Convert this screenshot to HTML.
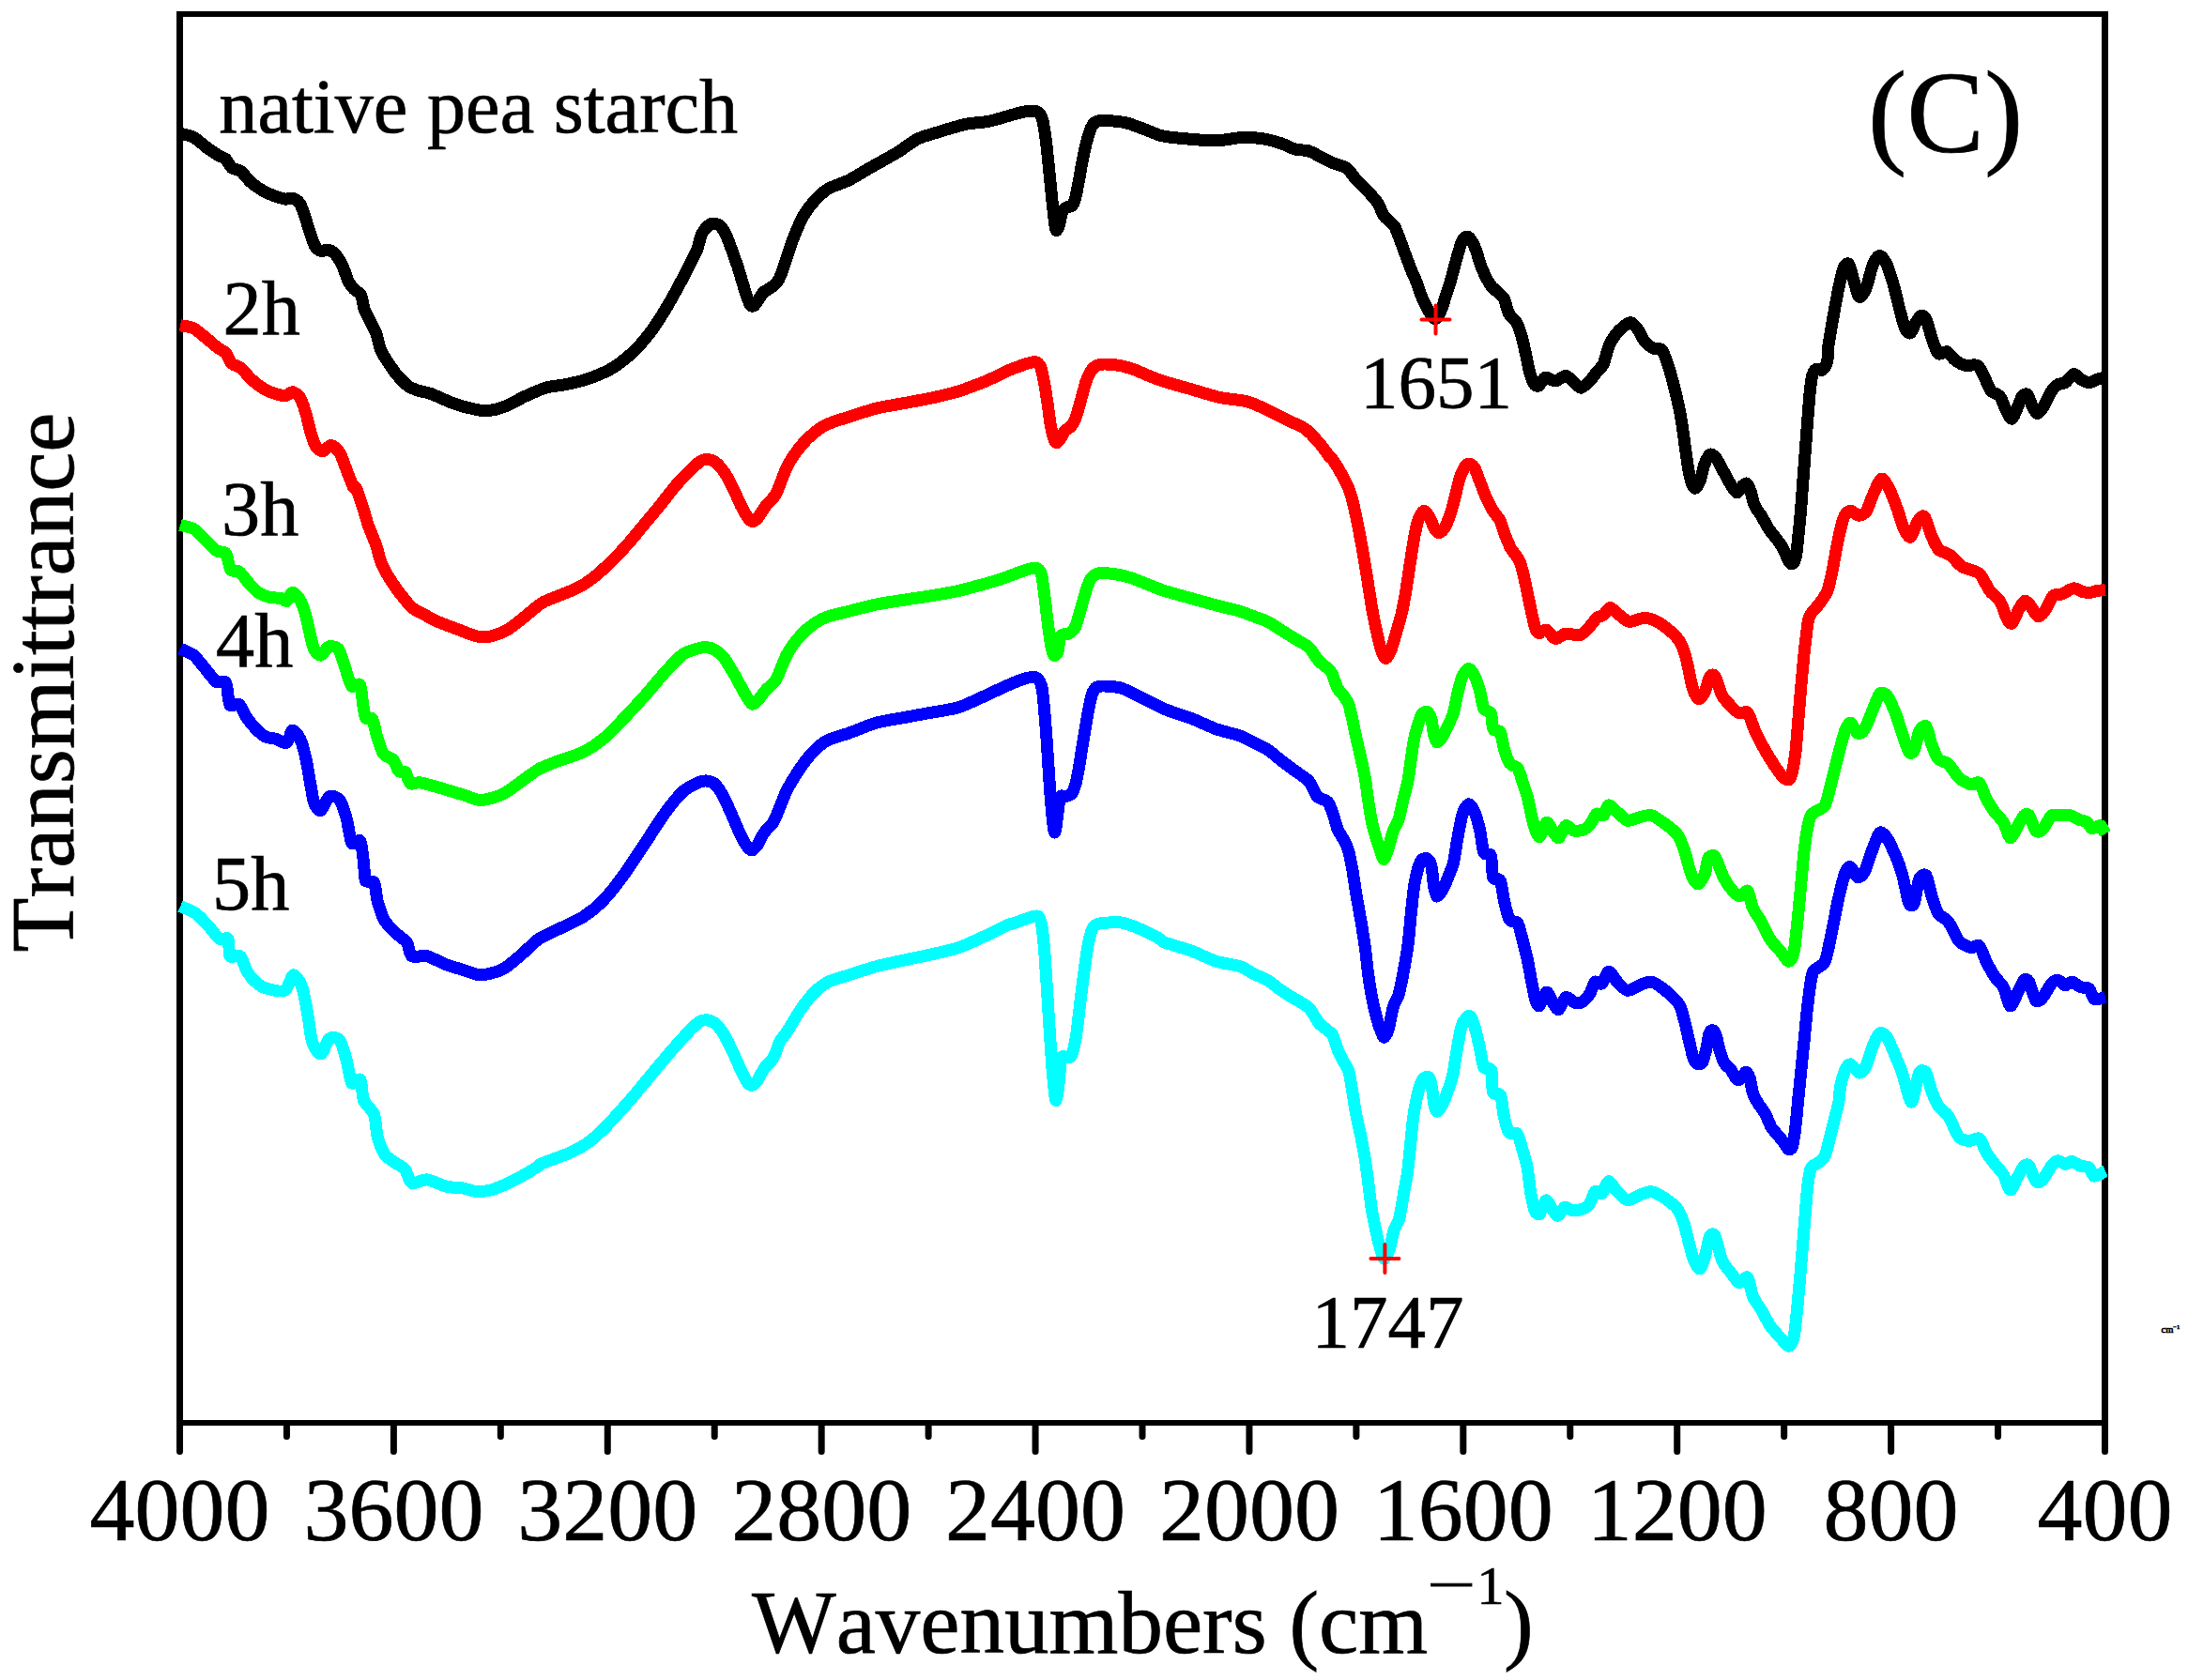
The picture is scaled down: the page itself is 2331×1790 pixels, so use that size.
<!DOCTYPE html>
<html><head><meta charset="utf-8"><title>FTIR spectra (C)</title>
<style>
html,body{margin:0;padding:0;background:#fff;}
svg{display:block;}
text{font-family:"Liberation Serif","Times New Roman",serif;fill:#000;font-kerning:none;stroke:#000;stroke-width:0.7px;}
</style></head><body>
<svg width="2331" height="1790" viewBox="0 0 2331 1790">
<rect x="0" y="0" width="2331" height="1790" fill="#fff"/>
<g fill="#000" shape-rendering="crispEdges"><rect x="188" y="12" width="7" height="1507"/><rect x="2239" y="12" width="7" height="1507"/><rect x="188" y="12" width="2058" height="6"/><rect x="188" y="1513" width="2058" height="6"/></g>
<g fill="none" stroke-width="13" stroke-linejoin="round" stroke-linecap="butt" shape-rendering="crispEdges">
<path stroke="#00ffff" d="M192.0,965.7C194.2,966.7 204.3,970.1 208.4,973.1C212.5,976.0 219.6,984.0 223.0,987.7C226.4,991.3 231.3,998.8 234.0,1000.5C236.7,1002.2 241.7,998.0 243.1,1000.5C244.6,1002.9 243.3,1016.3 245.0,1018.8C246.7,1021.2 253.5,1016.6 255.9,1018.8C258.4,1021.0 260.8,1031.3 263.3,1035.2C265.7,1039.1 271.3,1045.6 274.2,1048.0C277.1,1050.4 281.3,1052.5 285.2,1053.5C289.1,1054.5 299.8,1057.3 303.5,1055.3C307.1,1053.4 310.2,1039.4 312.6,1038.9C315.1,1038.4 319.8,1046.5 321.8,1051.7C323.7,1056.8 325.8,1069.5 327.2,1077.3C328.7,1085.1 330.8,1104.1 332.7,1110.2C334.7,1116.3 339.4,1123.4 341.9,1123.0C344.3,1122.5 348.3,1108.5 351.0,1106.5C353.7,1104.6 359.5,1105.2 362.0,1108.3C364.4,1111.5 367.6,1124.2 369.3,1130.3C371.0,1136.4 372.8,1151.4 374.8,1154.0C376.7,1156.7 382.2,1147.9 383.9,1150.4C385.6,1152.8 385.6,1167.4 387.6,1172.3C389.5,1177.3 396.6,1182.2 398.5,1187.4C400.5,1192.6 400.7,1205.6 402.2,1211.2C403.7,1216.8 407.1,1225.8 409.5,1229.5C411.9,1233.1 417.6,1236.4 420.5,1238.6C423.4,1240.8 429.0,1243.0 431.4,1245.9C433.9,1248.8 435.6,1259.1 438.8,1260.5C441.9,1262.0 450.3,1256.4 455.2,1256.9C460.1,1257.4 470.2,1263.0 475.3,1264.2C480.4,1265.4 489.2,1265.3 493.6,1266.0C498.0,1266.8 504.3,1269.4 508.2,1269.7C512.1,1269.9 519.0,1268.8 522.9,1267.9C526.8,1266.9 533.1,1264.3 537.5,1262.4C541.9,1260.4 550.9,1255.9 555.8,1253.2C560.6,1250.6 571.3,1244.0 574.0,1242.3C576.8,1240.5 574.0,1241.0 576.5,1239.9C579.0,1238.8 588.5,1235.5 592.9,1233.8C597.3,1232.1 605.0,1229.4 609.4,1227.3C613.8,1225.2 621.4,1221.0 625.8,1217.9C630.2,1214.8 637.9,1207.9 642.3,1203.7C646.7,1199.5 654.3,1190.9 658.7,1186.1C663.1,1181.3 670.8,1172.6 675.2,1167.5C679.6,1162.4 687.2,1153.0 691.6,1147.7C696.0,1142.4 704.0,1132.8 708.1,1128.0C712.2,1123.2 718.6,1115.7 722.3,1111.6C726.0,1107.5 732.4,1100.4 735.5,1097.3C738.6,1094.2 742.8,1090.0 745.2,1088.6C747.6,1087.2 751.4,1086.6 753.6,1086.9C755.8,1087.2 759.5,1088.4 761.9,1090.5C764.3,1092.6 768.9,1098.3 771.4,1102.4C773.9,1106.5 778.5,1116.0 781.0,1121.4C783.5,1126.8 788.4,1138.6 790.5,1142.9C792.6,1147.2 795.0,1151.8 796.4,1153.6C797.8,1155.4 799.8,1156.7 801.2,1156.4C802.6,1156.1 805.4,1153.6 807.1,1151.2C808.8,1148.8 812.1,1141.3 814.3,1138.1C816.5,1134.9 821.6,1131.2 823.8,1127.4C826.0,1123.6 829.0,1113.3 831.0,1109.5C833.0,1105.7 835.6,1103.7 838.5,1099.2C841.5,1094.7 849.2,1081.0 853.1,1075.4C857.0,1069.8 863.9,1061.0 867.8,1057.1C871.7,1053.2 877.5,1048.6 882.4,1046.2C887.3,1043.7 897.5,1041.1 904.3,1038.9C911.1,1036.7 925.8,1031.8 933.6,1029.7C941.4,1027.6 955.0,1024.9 962.8,1023.1C970.6,1021.4 984.3,1018.7 992.1,1016.9C999.9,1015.1 1013.5,1012.3 1021.3,1009.6C1029.1,1006.9 1043.7,1000.0 1050.6,996.8C1057.4,993.7 1068.6,987.6 1072.5,985.9C1076.4,984.1 1076.7,984.9 1080.0,983.8C1083.3,982.7 1094.0,978.5 1097.5,977.5C1101.0,976.5 1104.6,975.0 1106.3,976.3C1108.0,977.6 1109.1,982.0 1110.0,987.5C1110.9,993.0 1112.2,1006.8 1113.0,1017.5C1113.8,1028.2 1115.4,1053.2 1116.3,1067.5C1117.2,1081.8 1119.1,1112.7 1120.0,1125.0C1120.9,1137.3 1122.3,1153.7 1123.0,1160.0C1123.7,1166.3 1124.3,1173.2 1125.0,1172.5C1125.7,1171.8 1127.3,1161.0 1128.0,1155.0C1128.7,1149.0 1129.6,1131.3 1130.5,1127.5C1131.4,1123.7 1133.6,1126.6 1135.0,1126.3C1136.4,1126.0 1139.8,1127.8 1141.3,1125.0C1142.8,1122.2 1145.1,1111.7 1146.3,1105.0C1147.5,1098.3 1148.8,1084.3 1150.0,1075.0C1151.2,1065.7 1153.7,1044.7 1155.0,1035.0C1156.3,1025.3 1158.7,1008.8 1160.0,1002.5C1161.3,996.2 1163.3,990.0 1165.0,987.5C1166.7,985.0 1168.5,984.4 1172.5,983.8C1176.5,983.2 1189.3,982.2 1195.0,983.0C1200.7,983.8 1209.7,987.7 1215.0,990.0C1220.3,992.3 1231.6,998.1 1235.0,1000.0C1238.4,1001.9 1236.0,1002.4 1240.7,1004.1C1245.4,1005.9 1262.6,1010.6 1269.9,1013.3C1277.3,1016.0 1288.7,1022.0 1295.5,1024.2C1302.4,1026.4 1315.8,1027.9 1321.1,1029.7C1326.5,1031.5 1331.9,1035.8 1335.8,1037.8C1339.7,1039.7 1346.5,1042.0 1350.4,1044.4C1354.3,1046.7 1361.1,1052.6 1365.0,1055.3C1368.9,1058.0 1375.7,1062.0 1379.6,1064.5C1383.5,1066.9 1390.8,1070.2 1394.3,1073.6C1397.7,1077.0 1402.3,1086.6 1405.2,1090.1C1408.2,1093.5 1414.2,1097.5 1416.2,1099.2C1418.2,1100.9 1418.8,1100.3 1420.0,1102.9C1421.2,1105.5 1423.9,1115.1 1425.4,1118.9C1426.9,1122.7 1430.1,1128.3 1431.6,1131.4C1433.1,1134.5 1435.8,1138.0 1437.0,1142.1C1438.2,1146.2 1439.4,1155.6 1440.5,1161.8C1441.6,1168.0 1443.7,1181.7 1445.0,1188.6C1446.3,1195.5 1449.1,1206.9 1450.4,1213.6C1451.7,1220.3 1453.8,1232.2 1454.8,1238.6C1455.8,1245.0 1457.1,1255.4 1457.9,1261.8C1458.7,1268.2 1460.1,1280.4 1461.1,1286.8C1462.1,1293.2 1464.2,1304.1 1465.5,1310.0C1466.8,1315.9 1469.6,1327.2 1470.9,1331.4C1472.2,1335.6 1473.7,1341.5 1475.0,1341.3C1476.3,1341.1 1479.3,1333.8 1480.7,1329.6C1482.1,1325.4 1483.9,1314.0 1485.2,1310.0C1486.5,1306.0 1489.2,1304.1 1490.5,1299.3C1491.8,1294.5 1493.8,1281.0 1495.0,1274.3C1496.2,1267.6 1498.5,1256.4 1499.5,1249.3C1500.5,1242.2 1501.7,1228.3 1502.5,1220.7C1503.3,1213.1 1504.6,1198.3 1505.4,1192.1C1506.2,1185.9 1507.4,1179.1 1508.4,1174.3C1509.4,1169.5 1511.7,1159.9 1512.9,1156.4C1514.1,1152.9 1516.0,1149.5 1517.3,1148.4C1518.6,1147.3 1521.6,1146.9 1522.7,1148.4C1523.8,1149.9 1525.0,1156.1 1525.7,1160.0C1526.4,1163.9 1527.3,1174.7 1528.0,1177.9C1528.7,1181.1 1529.9,1184.3 1531.1,1184.1C1532.3,1183.9 1535.4,1179.3 1537.0,1176.1C1538.6,1172.9 1541.8,1164.1 1543.2,1160.0C1544.6,1155.9 1546.5,1151.2 1547.7,1145.7C1548.9,1140.2 1550.8,1126.0 1552.1,1118.9C1553.4,1111.8 1555.7,1097.0 1557.5,1092.1C1559.3,1087.2 1563.7,1082.1 1565.5,1082.3C1567.3,1082.5 1569.5,1089.5 1570.9,1093.9C1572.3,1098.3 1575.0,1109.7 1576.3,1115.4C1577.6,1121.1 1579.0,1133.5 1580.7,1136.8C1582.4,1140.1 1587.5,1136.8 1588.8,1140.4C1590.1,1144.0 1589.2,1160.0 1590.5,1163.6C1591.8,1167.2 1597.1,1163.8 1598.6,1167.1C1600.1,1170.4 1600.9,1183.4 1602.1,1188.6C1603.3,1193.8 1605.6,1203.8 1607.5,1206.4C1609.4,1209.0 1614.5,1205.8 1616.4,1208.2C1618.3,1210.6 1620.4,1219.5 1621.8,1224.3C1623.2,1229.1 1625.9,1237.7 1627.1,1243.9C1628.3,1250.1 1629.6,1264.5 1630.7,1270.7C1631.8,1276.9 1634.0,1287.3 1635.2,1290.4C1636.4,1293.5 1639.1,1294.0 1640.0,1293.9C1640.9,1293.8 1640.8,1291.8 1641.8,1289.8C1642.8,1287.8 1645.7,1279.1 1647.3,1278.8C1648.8,1278.6 1651.8,1285.8 1653.5,1288.0C1655.1,1290.2 1657.9,1295.5 1659.7,1295.3C1661.5,1295.0 1664.9,1286.9 1667.0,1286.1C1669.1,1285.4 1672.8,1289.6 1675.4,1289.8C1678.0,1290.0 1684.0,1288.9 1686.4,1288.0C1688.8,1287.0 1692.0,1284.9 1693.7,1282.5C1695.4,1280.0 1697.5,1271.2 1699.2,1269.7C1700.9,1268.2 1704.6,1273.0 1706.5,1271.5C1708.5,1270.1 1711.6,1259.0 1713.8,1258.7C1716.0,1258.5 1720.3,1267.0 1723.0,1269.7C1725.6,1272.4 1730.8,1278.3 1733.9,1278.8C1737.1,1279.3 1743.3,1274.6 1746.7,1273.3C1750.1,1272.1 1755.9,1269.2 1759.5,1269.7C1763.2,1270.2 1770.5,1274.6 1774.1,1277.0C1777.8,1279.4 1784.3,1284.3 1786.9,1288.0C1789.6,1291.6 1792.1,1297.6 1794.3,1304.4C1796.4,1311.2 1801.2,1332.8 1803.4,1339.2C1805.6,1345.5 1809.0,1352.0 1810.7,1352.0C1812.4,1352.0 1814.7,1343.8 1816.2,1339.2C1817.7,1334.5 1820.2,1320.1 1821.7,1317.2C1823.1,1314.3 1825.5,1313.8 1827.2,1317.2C1828.9,1320.6 1832.3,1337.7 1834.5,1342.8C1836.7,1347.9 1841.2,1352.4 1843.6,1355.6C1846.1,1358.8 1850.3,1365.9 1852.8,1366.6C1855.2,1367.3 1859.9,1359.1 1861.9,1361.1C1863.8,1363.0 1865.4,1376.6 1867.4,1381.2C1869.3,1385.8 1874.1,1391.7 1876.5,1395.8C1879.0,1400.0 1883.0,1408.4 1885.7,1412.3C1888.3,1416.2 1893.9,1422.2 1896.6,1425.1C1899.3,1428.0 1903.8,1434.5 1905.8,1434.2C1907.7,1434.0 1909.8,1431.5 1911.3,1423.3C1912.7,1415.0 1915.3,1387.7 1916.7,1372.1C1918.2,1356.5 1921.0,1320.9 1922.2,1306.3C1923.4,1291.6 1924.9,1270.7 1925.9,1262.4C1926.9,1254.1 1928.3,1247.0 1929.5,1244.1C1930.8,1241.2 1933.1,1242.1 1935.0,1240.4C1937.0,1238.7 1942.0,1236.2 1944.2,1231.3C1946.4,1226.4 1949.5,1211.4 1951.5,1203.9C1953.4,1196.3 1957.6,1180.8 1958.8,1174.6C1960.0,1168.5 1959.6,1162.4 1960.6,1157.7C1961.6,1153.0 1964.6,1142.6 1966.1,1139.4C1967.6,1136.2 1969.6,1133.4 1971.6,1133.9C1973.5,1134.4 1978.5,1142.8 1980.7,1143.1C1982.9,1143.3 1986.1,1139.7 1988.0,1135.8C1990.0,1131.9 1993.4,1118.5 1995.4,1113.8C1997.3,1109.2 2000.7,1102.2 2002.7,1101.0C2004.6,1099.8 2007.8,1101.5 2010.0,1104.7C2012.2,1107.8 2016.9,1119.7 2019.1,1124.8C2021.3,1129.9 2024.5,1137.2 2026.4,1143.1C2028.4,1148.9 2032.3,1164.7 2033.7,1168.7C2035.2,1172.6 2035.9,1176.2 2037.4,1172.8C2038.9,1169.4 2042.8,1147.0 2044.7,1143.1C2046.7,1139.1 2050.3,1140.6 2052.0,1143.1C2053.7,1145.5 2055.8,1156.7 2057.5,1161.4C2059.2,1166.0 2062.4,1174.6 2064.8,1178.3C2067.3,1182.0 2072.9,1184.9 2075.8,1189.3C2078.7,1193.6 2083.8,1207.7 2086.8,1211.2C2089.7,1214.7 2094.8,1215.3 2097.7,1215.6C2100.7,1215.8 2106.3,1211.4 2108.7,1213.0C2111.1,1214.6 2113.8,1224.0 2116.0,1227.6C2118.2,1231.3 2122.7,1237.3 2125.1,1240.4C2127.6,1243.6 2132.1,1247.8 2134.3,1251.4C2136.5,1255.1 2139.7,1267.4 2141.6,1267.9C2143.6,1268.3 2147.0,1258.5 2148.9,1255.1C2150.9,1251.7 2154.5,1244.0 2156.2,1242.3C2157.9,1240.6 2160.0,1240.1 2161.7,1242.3C2163.4,1244.5 2167.1,1256.8 2169.0,1258.7C2171.0,1260.7 2174.1,1259.1 2176.3,1256.9C2178.5,1254.7 2183.3,1244.9 2185.5,1242.3C2187.7,1239.6 2190.8,1237.0 2192.8,1236.8C2194.7,1236.5 2198.2,1240.3 2200.1,1240.4C2202.1,1240.5 2205.2,1237.3 2207.4,1237.5C2209.6,1237.8 2214.1,1241.4 2216.6,1242.3C2219.0,1243.1 2223.7,1242.6 2225.7,1244.1C2227.6,1245.6 2228.9,1252.7 2231.2,1253.2C2233.5,1253.7 2241.4,1248.5 2243.0,1247.8"/>
<path stroke="#0000ff" d="M192.0,691.1C193.9,692.0 202.8,695.3 206.3,698.1C209.8,700.9 215.3,708.5 218.5,712.3C221.7,716.1 227.6,724.5 230.6,726.5C233.6,728.5 238.8,724.3 240.7,727.5C242.6,730.7 242.9,747.7 244.8,750.8C246.7,753.9 252.5,748.9 254.9,750.8C257.3,752.7 260.6,761.4 263.0,764.9C265.4,768.4 270.4,774.4 273.1,777.1C275.8,779.8 280.5,783.9 283.2,785.2C285.9,786.5 290.4,786.4 293.4,787.2C296.4,788.0 303.1,792.5 305.5,791.3C307.9,790.1 309.7,778.6 311.6,778.1C313.5,777.6 317.8,783.3 319.7,787.2C321.6,791.1 324.2,800.9 325.7,807.4C327.2,813.9 329.6,829.3 330.8,835.8C332.0,842.3 333.4,852.3 334.9,856.0C336.4,859.7 339.7,864.3 341.9,863.4C344.0,862.4 348.3,850.2 351.0,848.7C353.7,847.3 359.5,849.2 362.0,852.4C364.4,855.6 367.6,866.4 369.3,872.5C371.0,878.6 372.8,894.9 374.8,898.1C376.7,901.3 382.2,893.3 383.9,896.3C385.6,899.2 386.8,914.4 387.6,920.0C388.3,925.6 387.9,935.6 389.4,938.3C390.9,941.0 396.8,937.2 398.5,940.1C400.2,943.1 400.7,954.9 402.2,960.3C403.7,965.6 407.1,976.0 409.5,980.4C411.9,984.8 417.3,990.0 420.5,993.2C423.6,996.3 430.8,1000.7 433.3,1004.1C435.7,1007.5 435.8,1016.8 438.8,1018.8C441.7,1020.7 450.3,1017.5 455.2,1018.8C460.1,1020.0 470.2,1025.9 475.3,1027.9C480.4,1029.8 489.0,1031.9 493.6,1033.4C498.2,1034.8 506.2,1038.4 510.1,1038.9C514.0,1039.4 519.2,1038.0 522.9,1037.0C526.5,1036.1 533.1,1034.2 537.5,1031.6C541.9,1028.9 550.9,1021.1 555.8,1016.9C560.6,1012.8 568.7,1004.1 574.0,1000.5C579.4,996.8 589.6,992.7 596.0,989.5C602.3,986.3 615.2,980.9 621.6,976.7C627.9,972.6 637.7,964.5 643.5,958.4C649.4,952.3 659.6,939.0 665.4,931.0C671.3,923.0 681.5,906.9 687.4,898.1C693.2,889.3 704.0,872.5 709.3,865.2C714.7,857.9 722.8,847.5 727.6,843.3C732.4,839.0 741.7,834.8 745.2,833.3C748.7,831.8 751.4,831.8 753.6,832.1C755.8,832.4 759.5,833.3 761.9,835.7C764.3,838.1 768.9,845.2 771.4,850.0C773.9,854.8 778.5,865.7 781.0,871.4C783.5,877.1 788.4,888.8 790.5,892.9C792.6,897.0 795.0,900.7 796.4,902.4C797.8,904.1 799.8,906.3 801.2,906.0C802.6,905.7 805.4,902.5 807.1,900.0C808.8,897.5 812.1,890.1 814.3,886.9C816.5,883.7 821.6,879.9 823.8,876.2C826.0,872.5 829.0,864.1 831.0,859.5C833.0,854.9 835.6,847.0 838.5,841.4C841.5,835.8 849.2,823.3 853.1,817.7C857.0,812.1 863.9,803.3 867.8,799.4C871.7,795.5 877.5,790.8 882.4,788.4C887.3,786.0 897.5,783.5 904.3,781.1C911.1,778.7 925.8,772.3 933.6,770.1C941.4,767.9 955.0,766.1 962.8,764.6C970.6,763.2 984.3,760.6 992.1,759.2C999.9,757.7 1013.5,756.1 1021.3,753.7C1029.1,751.2 1043.7,743.9 1050.6,740.9C1057.4,737.8 1067.1,733.0 1072.5,730.6C1077.9,728.3 1086.6,724.5 1090.8,723.3C1094.9,722.2 1101.0,720.5 1103.6,721.9C1106.2,723.2 1108.7,725.7 1110.2,733.6C1111.6,741.5 1113.3,765.5 1114.6,781.1C1115.8,796.7 1118.1,836.4 1119.3,850.6C1120.5,864.7 1122.4,887.1 1123.7,887.1C1125.0,887.1 1127.7,855.7 1129.2,850.6C1130.6,845.4 1133.0,849.5 1134.7,848.7C1136.4,848.0 1140.3,847.8 1142.0,845.1C1143.7,842.4 1145.8,836.7 1147.5,828.6C1149.2,820.6 1152.8,796.0 1154.8,784.8C1156.7,773.5 1160.1,751.6 1162.1,744.5C1164.0,737.5 1165.3,733.3 1169.4,731.7C1173.5,730.2 1187.1,731.4 1193.2,732.8C1199.3,734.3 1208.8,739.7 1215.1,742.7C1221.4,745.7 1233.4,752.4 1240.7,755.5C1248.0,758.6 1262.6,762.9 1269.9,765.7C1277.3,768.6 1288.7,774.3 1295.5,776.7C1302.4,779.1 1315.8,782.1 1321.1,784.0C1326.5,786.0 1331.9,789.4 1335.8,791.3C1339.7,793.3 1346.5,796.1 1350.4,798.6C1354.3,801.2 1361.1,807.3 1365.0,810.3C1368.9,813.4 1375.7,818.4 1379.6,821.3C1383.5,824.2 1391.1,828.6 1394.3,832.3C1397.4,835.9 1400.7,845.8 1403.4,848.7C1406.1,851.7 1412.2,851.8 1414.4,854.2C1416.6,856.6 1418.6,862.8 1420.0,866.7C1421.4,870.6 1423.4,879.5 1425.0,883.3C1426.6,887.1 1430.1,891.9 1431.7,895.0C1433.3,898.1 1435.5,902.5 1436.7,906.7C1437.9,910.9 1439.7,920.5 1440.8,926.7C1441.9,932.9 1443.8,946.0 1445.0,953.3C1446.2,960.6 1448.8,974.4 1450.0,981.7C1451.2,989.0 1453.2,1001.0 1454.2,1008.3C1455.2,1015.6 1456.5,1029.4 1457.5,1036.7C1458.5,1044.0 1460.5,1056.9 1461.7,1063.3C1462.9,1069.7 1465.4,1080.1 1466.7,1085.0C1468.0,1089.9 1470.6,1097.3 1471.7,1100.0C1472.8,1102.7 1473.7,1105.4 1474.7,1105.0C1475.7,1104.6 1477.9,1100.9 1479.2,1096.7C1480.5,1092.5 1482.8,1078.2 1484.2,1073.3C1485.6,1068.4 1488.6,1064.9 1490.0,1060.0C1491.4,1055.1 1493.7,1043.8 1495.0,1036.7C1496.3,1029.6 1498.9,1015.2 1500.0,1006.7C1501.1,998.2 1502.4,981.8 1503.3,973.3C1504.2,964.8 1505.7,949.7 1506.7,943.3C1507.7,936.9 1509.7,928.7 1510.8,925.0C1511.9,921.3 1513.7,917.1 1515.0,915.8C1516.3,914.5 1519.5,914.0 1520.8,915.0C1522.1,916.0 1524.1,919.5 1525.0,923.3C1525.9,927.1 1526.7,939.1 1527.5,943.3C1528.3,947.5 1529.6,954.3 1530.8,955.0C1532.0,955.7 1535.0,951.2 1536.7,948.3C1538.4,945.4 1541.8,937.1 1543.3,933.3C1544.8,929.5 1547.1,925.1 1548.3,920.0C1549.5,914.9 1551.2,902.1 1552.5,895.0C1553.8,887.9 1556.6,871.8 1558.3,866.7C1560.0,861.6 1563.3,856.9 1565.0,856.7C1566.7,856.5 1569.2,861.2 1570.8,865.0C1572.4,868.8 1575.4,879.2 1576.7,885.0C1578.0,890.8 1579.3,904.7 1580.8,908.3C1582.3,911.9 1587.0,908.1 1588.3,911.7C1589.6,915.3 1589.5,931.5 1590.8,935.0C1592.1,938.5 1596.7,935.0 1598.3,938.3C1599.9,941.6 1601.2,954.4 1602.5,960.0C1603.8,965.6 1606.4,976.9 1608.3,980.0C1610.2,983.1 1614.9,980.6 1616.7,983.3C1618.5,986.0 1620.3,994.7 1621.7,1000.0C1623.1,1005.3 1626.1,1016.6 1627.5,1023.3C1628.9,1030.0 1631.3,1044.0 1632.5,1050.0C1633.7,1056.0 1635.7,1065.4 1636.7,1068.3C1637.7,1071.2 1639.2,1072.0 1640.0,1071.7C1640.8,1071.4 1641.5,1068.2 1642.5,1066.3C1643.6,1064.3 1646.3,1056.7 1648.0,1057.1C1649.7,1057.6 1653.6,1067.5 1655.3,1069.9C1657.0,1072.4 1659.1,1076.4 1660.8,1075.4C1662.5,1074.5 1665.9,1063.6 1668.1,1062.6C1670.3,1061.7 1675.1,1067.4 1677.3,1068.1C1679.4,1068.8 1682.4,1069.3 1684.6,1068.1C1686.8,1066.9 1691.8,1061.9 1693.7,1059.0C1695.7,1056.1 1697.5,1047.6 1699.2,1046.2C1700.9,1044.7 1704.6,1049.5 1706.5,1048.0C1708.5,1046.5 1711.6,1035.5 1713.8,1035.2C1716.0,1035.0 1720.3,1043.5 1723.0,1046.2C1725.6,1048.9 1730.8,1054.8 1733.9,1055.3C1737.1,1055.8 1743.3,1051.1 1746.7,1049.8C1750.1,1048.6 1755.9,1045.4 1759.5,1046.2C1763.2,1046.9 1770.2,1052.1 1774.1,1055.3C1778.0,1058.5 1786.1,1065.7 1788.8,1070.1C1791.5,1074.5 1793.2,1083.0 1794.7,1088.4C1796.2,1093.8 1798.6,1105.3 1799.9,1110.7C1801.2,1116.1 1803.3,1125.9 1804.5,1129.0C1805.7,1132.1 1807.9,1133.2 1809.1,1133.6C1810.3,1134.0 1812.6,1133.7 1813.7,1131.7C1814.8,1129.7 1816.6,1122.6 1817.6,1118.6C1818.6,1114.6 1820.0,1104.3 1820.9,1101.5C1821.8,1098.7 1823.2,1097.4 1824.2,1097.6C1825.2,1097.8 1827.1,1100.0 1828.1,1102.8C1829.1,1105.6 1830.8,1114.6 1832.0,1118.6C1833.2,1122.6 1835.7,1130.2 1837.3,1133.0C1838.9,1135.8 1842.1,1137.2 1843.8,1139.5C1845.5,1141.8 1848.7,1148.8 1850.3,1150.0C1851.9,1151.2 1854.3,1149.8 1855.6,1148.7C1856.9,1147.6 1859.1,1142.1 1860.2,1142.1C1861.3,1142.1 1863.1,1145.7 1864.1,1148.7C1865.1,1151.7 1866.3,1160.9 1867.4,1164.4C1868.5,1167.9 1870.9,1171.9 1872.6,1174.9C1874.3,1177.9 1878.6,1183.1 1880.5,1186.6C1882.4,1190.1 1885.3,1198.0 1887.0,1201.0C1888.7,1204.0 1891.9,1206.8 1893.6,1208.9C1895.3,1211.0 1898.5,1214.7 1900.1,1216.8C1901.7,1218.9 1904.1,1223.9 1905.3,1224.6C1906.5,1225.3 1908.3,1224.8 1909.3,1222.0C1910.3,1219.2 1911.6,1210.5 1912.5,1203.7C1913.4,1196.9 1914.9,1179.6 1915.8,1170.9C1916.7,1162.2 1918.2,1146.9 1919.1,1138.2C1920.0,1129.5 1921.5,1114.2 1922.4,1105.5C1923.3,1096.8 1924.6,1081.4 1925.6,1072.7C1926.6,1064.0 1929.2,1045.2 1930.2,1040.0C1931.2,1034.8 1931.3,1035.5 1933.2,1033.4C1935.1,1031.3 1941.7,1029.6 1944.2,1024.2C1946.6,1018.9 1949.5,1002.2 1951.5,993.2C1953.4,984.1 1956.8,965.1 1958.8,956.6C1960.7,948.1 1964.4,933.6 1966.1,929.2C1967.8,924.8 1969.9,923.0 1971.6,923.7C1973.3,924.4 1976.9,933.9 1978.9,934.7C1980.8,935.4 1984.0,933.3 1986.2,929.2C1988.4,925.0 1993.2,909.2 1995.4,903.6C1997.5,898.0 2000.7,888.6 2002.7,887.1C2004.6,885.7 2007.8,889.4 2010.0,892.6C2012.2,895.8 2016.9,905.8 2019.1,910.9C2021.3,916.0 2024.5,924.2 2026.4,931.0C2028.4,937.8 2032.0,957.9 2033.7,962.1C2035.4,966.2 2037.8,965.5 2039.2,962.1C2040.7,958.7 2043.0,940.4 2044.7,936.5C2046.4,932.6 2050.3,930.6 2052.0,932.8C2053.7,935.0 2055.8,947.6 2057.5,952.9C2059.2,958.3 2062.4,969.2 2064.8,973.1C2067.3,977.0 2072.9,978.3 2075.8,982.2C2078.7,986.1 2083.6,998.6 2086.8,1002.3C2089.9,1006.0 2096.6,1008.9 2099.6,1009.6C2102.5,1010.3 2106.5,1005.8 2108.7,1007.8C2110.9,1009.7 2113.8,1019.9 2116.0,1024.2C2118.2,1028.6 2122.7,1037.0 2125.1,1040.7C2127.6,1044.4 2132.1,1047.5 2134.3,1051.7C2136.5,1055.8 2139.7,1070.8 2141.6,1071.8C2143.6,1072.7 2147.0,1062.6 2148.9,1059.0C2150.9,1055.3 2154.5,1046.1 2156.2,1044.4C2157.9,1042.6 2160.0,1043.3 2161.7,1046.2C2163.4,1049.1 2167.1,1064.1 2169.0,1066.3C2171.0,1068.5 2174.1,1065.1 2176.3,1062.6C2178.5,1060.2 2183.3,1050.4 2185.5,1048.0C2187.7,1045.6 2190.8,1044.1 2192.8,1044.4C2194.7,1044.6 2198.2,1049.6 2200.1,1049.8C2202.1,1050.1 2205.2,1045.9 2207.4,1046.2C2209.6,1046.4 2214.1,1050.7 2216.6,1051.7C2219.0,1052.6 2223.7,1051.8 2225.7,1053.5C2227.6,1055.2 2228.9,1063.2 2231.2,1064.5C2233.5,1065.7 2241.4,1062.9 2243.0,1062.6"/>
<path stroke="#00ff00" d="M192.0,559.5C193.9,560.0 202.8,561.5 206.3,563.5C209.8,565.5 215.3,571.6 218.5,574.7C221.7,577.8 227.6,584.8 230.6,586.8C233.6,588.8 238.7,587.1 240.7,589.8C242.7,592.5 243.9,604.4 245.8,607.0C247.7,609.6 252.3,607.2 254.9,609.1C257.5,611.0 262.3,618.2 265.0,621.2C267.7,624.2 272.1,629.3 275.1,631.3C278.1,633.3 284.1,635.6 287.3,636.4C290.5,637.2 297.0,636.9 299.4,637.4C301.8,637.9 303.9,641.2 305.5,640.4C307.1,639.6 309.7,631.4 311.6,631.3C313.5,631.2 317.8,636.2 319.7,639.4C321.6,642.6 324.2,650.5 325.7,655.6C327.2,660.7 329.6,673.0 330.8,677.9C332.0,682.8 333.4,689.4 334.9,692.1C336.4,694.8 339.9,698.5 341.9,698.1C343.9,697.7 347.6,689.9 350.0,689.0C352.4,688.1 358.0,688.8 360.2,691.1C362.4,693.4 364.3,700.9 366.2,706.2C368.1,711.5 372.0,727.4 374.3,730.5C376.6,733.6 381.8,727.1 383.4,729.5C385.0,731.9 385.7,744.0 386.5,748.7C387.3,753.4 388.2,762.6 389.5,764.9C390.8,767.2 395.0,763.3 396.6,766.0C398.2,768.7 400.1,780.2 401.7,785.2C403.3,790.2 406.4,800.2 408.7,803.4C411.0,806.6 416.7,807.1 418.9,809.5C421.1,811.9 423.2,819.9 424.9,821.7C426.6,823.5 430.4,821.0 432.0,822.7C433.6,824.4 435.1,833.3 437.1,834.8C439.1,836.3 443.7,833.4 447.2,833.8C450.7,834.2 459.7,836.9 463.4,837.9C467.1,838.9 471.3,840.2 475.3,841.4C479.3,842.6 489.0,845.4 493.6,846.9C498.2,848.4 506.2,851.9 510.1,852.4C514.0,852.9 519.2,851.5 522.9,850.6C526.5,849.6 533.1,847.5 537.5,845.1C541.9,842.6 550.9,835.7 555.8,832.3C560.6,828.9 568.7,822.4 574.0,819.5C579.4,816.6 589.6,812.8 596.0,810.3C602.3,807.9 615.2,804.4 621.6,801.2C627.9,798.0 637.7,791.5 643.5,786.6C649.4,781.7 659.6,770.7 665.4,764.6C671.3,758.5 681.5,747.5 687.4,740.9C693.2,734.3 704.0,721.1 709.3,715.3C714.7,709.4 722.9,700.3 727.6,697.0C732.3,693.7 741.1,691.7 744.6,690.7C748.1,689.7 751.2,689.5 753.6,689.8C756.0,690.1 760.1,691.5 762.5,693.0C764.9,694.5 769.0,698.1 771.4,701.1C773.8,704.1 778.0,711.4 780.4,715.4C782.8,719.4 787.2,727.6 789.3,731.4C791.4,735.2 794.8,741.4 796.4,743.9C798.0,746.4 800.0,749.8 801.4,750.2C802.8,750.6 805.1,748.6 807.1,746.6C809.1,744.6 813.5,738.0 816.1,735.0C818.7,732.0 823.8,729.4 826.8,724.3C829.8,719.2 835.0,703.3 838.5,697.0C842.0,690.7 849.2,681.3 853.1,676.9C857.0,672.5 863.9,666.8 867.8,664.1C871.7,661.4 877.5,658.5 882.4,656.8C887.3,655.1 897.5,653.0 904.3,651.3C911.1,649.6 925.8,645.6 933.6,644.0C941.4,642.4 955.0,640.5 962.8,639.2C970.6,638.0 984.3,636.2 992.1,634.8C999.9,633.5 1013.5,631.1 1021.3,629.4C1029.1,627.6 1044.6,623.3 1050.6,621.7C1056.5,620.1 1062.3,618.4 1066.0,617.2C1069.7,616.0 1074.4,614.0 1078.1,612.6C1081.8,611.2 1090.4,608.0 1093.9,607.0C1097.4,606.0 1102.0,604.6 1104.1,605.2C1106.2,605.8 1108.2,607.9 1109.3,611.5C1110.4,615.1 1111.7,625.9 1112.5,631.9C1113.3,637.9 1114.6,650.4 1115.4,656.7C1116.2,663.0 1117.6,674.4 1118.4,679.4C1119.2,684.4 1120.4,691.5 1121.1,694.1C1121.8,696.7 1123.2,698.8 1124.0,698.6C1124.8,698.4 1126.7,695.5 1127.4,692.9C1128.1,690.3 1128.3,681.7 1129.0,679.4C1129.7,677.1 1131.0,676.6 1132.4,676.0C1133.8,675.4 1137.5,675.9 1139.2,674.8C1140.9,673.7 1144.0,671.1 1145.5,668.1C1147.0,665.1 1149.1,657.0 1150.5,652.2C1151.9,647.4 1154.7,636.6 1156.2,631.9C1157.7,627.2 1160.0,620.0 1161.8,617.2C1163.6,614.4 1166.4,611.8 1169.7,611.0C1173.0,610.2 1182.0,610.9 1186.7,611.5C1191.4,612.1 1200.0,614.1 1204.8,615.6C1209.6,617.1 1218.1,620.9 1222.9,622.8C1227.7,624.7 1234.7,627.6 1241.0,629.6C1247.3,631.6 1262.2,635.6 1269.9,637.8C1277.7,639.9 1292.4,644.0 1299.2,645.8C1306.0,647.6 1316.3,649.8 1321.1,651.3C1326.0,652.8 1331.9,655.3 1335.8,656.8C1339.7,658.2 1346.5,660.3 1350.4,662.3C1354.3,664.2 1361.1,669.0 1365.0,671.4C1368.9,673.8 1375.7,678.1 1379.6,680.5C1383.5,683.0 1390.8,686.5 1394.3,689.7C1397.7,692.9 1402.3,701.1 1405.2,704.3C1408.2,707.5 1414.2,711.4 1416.2,713.5C1418.2,715.5 1418.8,717.4 1420.0,720.0C1421.2,722.6 1423.4,730.4 1425.0,733.3C1426.6,736.2 1430.1,739.5 1431.7,741.7C1433.3,743.9 1435.5,746.7 1436.7,750.0C1437.9,753.3 1439.7,761.8 1440.8,766.7C1441.9,771.6 1443.8,781.2 1445.0,786.7C1446.2,792.2 1448.8,802.8 1450.0,808.3C1451.2,813.8 1453.2,822.5 1454.2,828.3C1455.2,834.1 1456.5,845.2 1457.5,851.7C1458.5,858.2 1460.5,870.9 1461.7,876.7C1462.9,882.5 1465.4,890.6 1466.7,895.0C1468.0,899.4 1470.7,907.3 1471.7,910.0C1472.7,912.7 1473.5,916.1 1474.5,915.2C1475.5,914.3 1477.9,907.3 1479.2,903.3C1480.5,899.3 1482.8,889.0 1484.2,885.0C1485.6,881.0 1488.6,877.7 1490.0,873.3C1491.4,868.9 1493.7,857.2 1495.0,851.7C1496.3,846.2 1498.9,837.5 1500.0,831.7C1501.1,825.9 1502.4,814.3 1503.3,808.3C1504.2,802.3 1505.7,791.6 1506.7,786.7C1507.7,781.8 1509.7,775.2 1510.8,771.7C1511.9,768.2 1513.7,762.5 1515.0,760.8C1516.3,759.1 1519.5,757.9 1520.8,758.7C1522.1,759.5 1524.1,763.6 1525.0,766.7C1525.9,769.8 1526.7,778.5 1527.5,781.7C1528.3,784.9 1529.6,790.4 1530.8,790.8C1532.0,791.2 1535.0,787.5 1536.7,785.0C1538.4,782.5 1541.8,775.0 1543.3,771.7C1544.8,768.4 1547.0,764.7 1548.3,760.0C1549.6,755.3 1552.0,742.0 1553.3,736.7C1554.6,731.4 1556.7,723.2 1558.3,720.0C1559.9,716.8 1563.3,712.5 1565.0,712.5C1566.7,712.5 1569.2,716.8 1570.8,720.0C1572.4,723.2 1575.4,732.0 1576.7,736.7C1578.0,741.4 1579.3,751.9 1580.8,755.0C1582.3,758.1 1587.0,757.1 1588.3,760.0C1589.6,762.9 1589.5,774.0 1590.8,776.7C1592.1,779.4 1596.7,777.1 1598.3,780.0C1599.9,782.9 1601.2,793.9 1602.5,798.3C1603.8,802.7 1606.4,810.6 1608.3,813.3C1610.2,816.0 1614.9,815.8 1616.7,818.3C1618.5,820.8 1620.3,827.5 1621.7,831.7C1623.1,835.9 1626.1,844.5 1627.5,850.0C1628.9,855.5 1631.3,868.4 1632.5,873.3C1633.7,878.2 1635.7,884.2 1636.7,886.7C1637.7,889.2 1639.2,891.6 1640.0,891.7C1640.8,891.8 1641.5,889.2 1642.5,887.1C1643.6,885.1 1646.3,876.2 1648.0,876.2C1649.7,876.2 1653.6,884.9 1655.3,887.1C1657.0,889.3 1659.1,893.6 1660.8,892.6C1662.5,891.6 1665.9,880.8 1668.1,879.8C1670.3,878.8 1674.6,884.8 1677.3,885.3C1679.9,885.8 1685.8,884.7 1688.2,883.5C1690.7,882.3 1693.8,878.4 1695.5,876.2C1697.2,874.0 1699.3,868.0 1701.0,867.0C1702.7,866.0 1706.6,870.1 1708.3,868.8C1710.0,867.6 1711.9,858.4 1713.8,857.9C1715.8,857.4 1720.3,863.0 1723.0,865.2C1725.6,867.4 1730.8,873.6 1733.9,874.3C1737.1,875.1 1743.3,871.4 1746.7,870.7C1750.1,869.9 1755.9,867.9 1759.5,868.8C1763.2,869.8 1770.5,875.3 1774.1,878.0C1777.8,880.7 1784.3,885.3 1786.9,889.0C1789.6,892.6 1792.3,899.8 1794.3,905.4C1796.2,911.0 1799.6,926.1 1801.6,931.0C1803.5,935.9 1806.9,942.0 1808.9,942.0C1810.8,942.0 1814.7,934.7 1816.2,931.0C1817.7,927.3 1818.4,917.0 1819.8,914.6C1821.3,912.1 1825.2,910.5 1827.2,912.7C1829.1,914.9 1832.5,926.9 1834.5,931.0C1836.4,935.1 1839.3,940.6 1841.8,943.8C1844.2,947.0 1850.1,954.0 1852.8,954.8C1855.4,955.5 1859.9,947.6 1861.9,949.3C1863.8,951.0 1865.4,963.2 1867.4,967.6C1869.3,972.0 1874.1,977.8 1876.5,982.2C1879.0,986.6 1883.0,996.3 1885.7,1000.5C1888.3,1004.6 1893.9,1010.1 1896.6,1013.3C1899.3,1016.4 1903.8,1024.2 1905.8,1024.2C1907.7,1024.2 1909.8,1021.3 1911.3,1013.3C1912.7,1005.2 1915.3,978.3 1916.7,963.9C1918.2,949.5 1920.8,917.6 1922.2,905.4C1923.7,893.2 1926.2,877.9 1927.7,872.5C1929.2,867.1 1931.0,867.1 1933.2,865.2C1935.4,863.2 1941.7,862.3 1944.2,857.9C1946.6,853.5 1949.5,839.6 1951.5,832.3C1953.4,825.0 1956.8,810.3 1958.8,803.0C1960.7,795.7 1964.4,781.8 1966.1,777.4C1967.8,773.1 1969.9,769.6 1971.6,770.1C1973.3,770.6 1976.9,780.1 1978.9,781.1C1980.8,782.1 1984.0,780.9 1986.2,777.4C1988.4,774.0 1993.2,760.6 1995.4,755.5C1997.5,750.4 2000.7,741.0 2002.7,739.0C2004.6,737.1 2007.8,738.2 2010.0,740.9C2012.2,743.6 2016.9,753.8 2019.1,759.2C2021.3,764.5 2024.5,775.5 2026.4,781.1C2028.4,786.7 2032.0,798.8 2033.7,801.2C2035.4,803.6 2037.8,802.3 2039.2,799.4C2040.7,796.5 2043.0,782.7 2044.7,779.3C2046.4,775.9 2050.3,772.1 2052.0,773.8C2053.7,775.5 2055.8,787.4 2057.5,792.1C2059.2,796.7 2062.4,805.6 2064.8,808.5C2067.3,811.4 2072.9,811.3 2075.8,814.0C2078.7,816.7 2083.6,825.7 2086.8,828.6C2089.9,831.6 2096.6,835.2 2099.6,835.9C2102.5,836.7 2106.5,832.2 2108.7,834.1C2110.9,836.1 2113.8,846.4 2116.0,850.6C2118.2,854.7 2122.7,861.8 2125.1,865.2C2127.6,868.6 2132.1,872.5 2134.3,876.2C2136.5,879.8 2139.7,891.9 2141.6,892.6C2143.6,893.3 2147.0,884.8 2148.9,881.6C2150.9,878.5 2154.5,870.6 2156.2,868.8C2157.9,867.1 2160.0,866.7 2161.7,868.8C2163.4,871.0 2167.1,883.4 2169.0,885.3C2171.0,887.3 2174.1,885.7 2176.3,883.5C2178.5,881.3 2183.3,870.8 2185.5,868.8C2187.7,866.9 2190.1,868.9 2192.8,868.8C2195.5,868.8 2202.8,868.2 2205.8,868.8C2208.8,869.4 2212.7,872.4 2215.0,873.3C2217.3,874.2 2221.5,874.6 2223.3,875.8C2225.1,877.0 2226.8,881.8 2228.3,882.5C2229.8,883.2 2232.9,881.1 2234.2,880.8C2235.5,880.5 2237.1,879.0 2238.3,880.0C2239.5,881.0 2242.4,887.2 2243.0,888.3"/>
<path stroke="#ff0000" d="M192.0,346.7C193.9,347.1 202.5,347.9 206.3,349.8C210.1,351.7 217.0,358.1 220.5,360.9C224.0,363.7 229.9,369.0 232.6,371.0C235.3,373.0 238.8,373.9 240.7,376.1C242.6,378.3 244.6,385.0 246.8,387.2C249.0,389.4 254.2,390.1 256.9,392.3C259.6,394.5 263.8,400.4 267.0,403.4C270.2,406.4 277.7,412.3 281.2,414.5C284.7,416.7 290.3,418.7 293.4,419.6C296.5,420.5 302.1,421.9 304.5,421.6C306.9,421.3 309.6,417.3 311.6,417.6C313.6,417.9 317.8,420.6 319.7,423.6C321.6,426.6 324.2,434.9 325.7,439.8C327.2,444.7 329.4,455.3 330.8,460.0C332.2,464.7 334.7,472.5 336.4,475.3C338.1,478.1 341.5,480.9 343.7,480.8C345.9,480.7 350.4,474.3 352.8,474.6C355.3,474.8 359.8,479.1 362.0,482.6C364.2,486.1 367.3,496.0 369.3,500.9C371.2,505.8 375.3,516.7 376.6,519.2C377.9,521.7 378.1,517.2 379.4,520.0C380.7,522.8 384.7,534.8 386.5,540.2C388.3,545.6 390.7,555.1 392.6,560.5C394.5,565.9 398.7,575.3 400.6,580.7C402.5,586.1 404.5,595.9 406.7,601.0C408.9,606.1 414.1,614.9 416.8,619.2C419.5,623.5 424.0,629.6 427.0,633.4C430.0,637.2 435.6,644.5 439.1,647.5C442.6,650.5 449.5,653.6 453.3,655.6C457.1,657.6 462.5,660.6 467.4,662.7C472.3,664.8 484.5,669.4 489.9,671.4C495.4,673.4 503.8,677.1 508.2,678.0C512.6,678.9 518.5,679.0 522.9,678.0C527.2,677.0 536.3,673.5 541.1,670.7C546.0,667.8 554.5,660.6 559.4,656.8C564.3,653.0 572.3,645.3 577.7,642.2C583.1,639.0 596.1,634.5 599.6,633.0C603.1,631.6 601.1,632.6 603.9,631.4C606.7,630.2 615.9,626.3 620.3,623.7C624.7,621.1 632.4,615.3 636.8,611.6C641.2,607.9 648.8,600.7 653.2,596.3C657.6,591.9 665.3,583.7 669.7,578.7C674.1,573.7 681.7,564.3 686.1,559.0C690.5,553.7 698.2,544.6 702.6,539.2C707.0,533.8 714.9,523.2 719.0,518.4C723.1,513.6 729.6,506.6 733.3,503.0C737.0,499.4 743.7,493.1 746.4,491.3C749.1,489.5 751.6,489.4 753.6,489.5C755.6,489.6 759.2,490.3 761.6,492.1C764.0,493.9 768.9,499.3 771.4,502.9C773.9,506.5 778.0,514.1 780.4,518.9C782.8,523.7 787.2,534.3 789.3,538.6C791.4,542.9 794.8,548.8 796.4,551.1C798.0,553.4 800.0,555.4 801.4,555.5C802.8,555.6 805.1,554.3 807.1,552.0C809.1,549.7 813.5,542.1 816.1,538.6C818.7,535.1 823.8,531.6 826.8,526.1C829.8,520.6 835.0,504.0 838.5,497.3C842.0,490.5 849.2,480.2 853.1,475.3C857.0,470.4 863.9,463.9 867.8,460.7C871.7,457.5 877.5,453.7 882.4,451.6C887.3,449.4 897.5,446.4 904.3,444.2C911.1,442.0 925.8,437.1 933.6,435.1C941.4,433.2 955.0,431.1 962.8,429.6C970.6,428.2 984.3,425.8 992.1,424.1C999.9,422.4 1013.5,419.3 1021.3,416.8C1029.1,414.4 1043.7,408.7 1050.6,405.9C1057.4,403.0 1068.8,397.3 1072.5,395.6C1076.2,393.9 1075.2,394.3 1078.1,393.2C1081.0,392.1 1090.6,388.5 1093.9,387.5C1097.2,386.5 1101.0,385.2 1103.0,385.7C1105.0,386.2 1107.3,387.9 1108.6,390.9C1109.9,393.9 1111.5,402.6 1112.5,407.9C1113.5,413.2 1115.2,424.5 1116.1,430.5C1117.0,436.5 1118.4,448.1 1119.3,453.1C1120.2,458.1 1122.0,465.3 1122.9,467.8C1123.8,470.3 1125.1,471.8 1126.1,471.7C1127.1,471.6 1129.0,468.4 1130.1,466.7C1131.2,465.0 1133.2,460.5 1134.7,458.8C1136.2,457.1 1139.4,456.3 1141.0,454.3C1142.6,452.3 1145.0,447.9 1146.4,444.1C1147.8,440.3 1150.1,431.1 1151.6,426.0C1153.1,420.9 1155.8,409.8 1157.3,405.6C1158.8,401.4 1161.1,396.6 1162.9,394.3C1164.7,392.0 1167.7,389.4 1170.9,388.6C1174.1,387.8 1182.2,388.1 1186.7,388.6C1191.2,389.1 1200.0,391.0 1204.8,392.5C1209.6,394.0 1218.1,398.1 1222.9,400.0C1227.7,401.9 1234.7,404.7 1241.0,406.7C1247.3,408.7 1262.2,412.8 1269.9,415.0C1277.7,417.2 1291.4,421.7 1299.2,423.4C1307.0,425.1 1321.6,426.0 1328.4,427.8C1335.3,429.6 1344.5,434.2 1350.4,436.9C1356.2,439.6 1367.0,445.2 1372.3,447.9C1377.7,450.6 1386.2,453.9 1390.6,457.0C1395.0,460.2 1401.8,467.8 1405.2,471.7C1408.6,475.6 1414.2,483.8 1416.2,486.3C1418.2,488.7 1418.2,487.3 1420.0,490.0C1421.8,492.7 1427.8,502.7 1430.0,506.7C1432.2,510.7 1435.1,516.0 1436.7,520.0C1438.3,524.0 1440.4,531.4 1441.7,536.7C1443.0,542.0 1445.4,553.3 1446.7,560.0C1448.0,566.7 1450.4,579.1 1451.7,586.7C1453.0,594.3 1455.4,608.5 1456.7,616.7C1458.0,624.9 1460.4,640.8 1461.7,648.3C1463.0,655.8 1465.4,667.3 1466.7,673.3C1468.0,679.3 1470.4,689.5 1471.7,693.3C1473.0,697.1 1475.0,701.7 1476.3,701.7C1477.6,701.7 1480.3,696.6 1481.7,693.3C1483.1,690.0 1485.2,682.0 1486.7,676.7C1488.2,671.4 1491.8,660.0 1493.3,653.3C1494.8,646.6 1497.0,634.7 1498.3,626.7C1499.6,618.7 1502.1,601.1 1503.3,593.3C1504.5,585.5 1506.4,573.8 1507.5,568.3C1508.6,562.8 1510.4,554.9 1511.7,551.7C1513.0,548.5 1516.0,544.2 1517.5,544.2C1519.0,544.2 1521.9,549.2 1523.3,551.7C1524.7,554.2 1527.1,561.2 1528.3,563.3C1529.5,565.4 1531.2,567.5 1532.5,567.5C1533.8,567.5 1536.6,565.9 1538.3,563.3C1540.0,560.7 1543.4,552.7 1545.0,548.3C1546.6,543.9 1548.7,535.1 1550.0,530.0C1551.3,524.9 1553.7,514.2 1555.0,510.0C1556.3,505.8 1558.7,500.4 1560.0,498.3C1561.3,496.2 1563.6,494.2 1565.0,494.2C1566.4,494.2 1569.2,495.8 1570.8,498.3C1572.4,500.8 1575.0,509.1 1576.7,513.3C1578.4,517.5 1581.5,526.0 1583.3,530.0C1585.1,534.0 1588.0,540.0 1590.0,543.3C1592.0,546.6 1596.5,551.4 1598.3,555.0C1600.1,558.6 1601.7,566.0 1603.3,570.0C1604.9,574.0 1608.0,581.4 1610.0,585.0C1612.0,588.6 1616.5,592.9 1618.3,596.7C1620.1,600.5 1622.0,608.0 1623.3,613.3C1624.6,618.6 1627.0,630.5 1628.3,636.7C1629.6,642.9 1632.2,655.3 1633.3,660.0C1634.4,664.7 1635.8,669.7 1636.7,671.7C1637.6,673.7 1639.5,674.8 1640.0,675.0C1640.5,675.2 1639.6,673.7 1640.7,673.2C1641.8,672.8 1645.8,670.4 1648.0,671.4C1650.2,672.4 1654.5,680.1 1657.1,680.5C1659.8,681.0 1664.7,675.6 1668.1,675.1C1671.5,674.6 1679.6,677.6 1682.7,676.9C1685.9,676.2 1689.4,672.0 1691.9,669.6C1694.3,667.1 1698.8,660.6 1701.0,658.6C1703.2,656.7 1706.4,656.4 1708.3,655.0C1710.3,653.5 1713.4,647.6 1715.6,647.6C1717.8,647.6 1722.1,653.0 1724.8,655.0C1727.5,656.9 1732.3,661.8 1735.8,662.3C1739.2,662.8 1747.0,658.9 1750.4,658.6C1753.8,658.4 1757.9,659.0 1761.3,660.4C1764.8,661.9 1772.3,666.7 1776.0,669.6C1779.6,672.5 1786.1,678.2 1788.8,682.4C1791.5,686.5 1794.1,693.8 1796.1,700.7C1798.0,707.5 1801.6,727.7 1803.4,733.6C1805.2,739.4 1807.9,744.0 1809.6,744.5C1811.3,745.0 1814.6,740.4 1816.2,737.2C1817.8,734.1 1820.2,723.0 1821.7,720.8C1823.1,718.6 1825.5,718.1 1827.2,720.8C1828.9,723.4 1832.3,736.7 1834.5,740.9C1836.7,745.0 1841.2,749.3 1843.6,751.8C1846.1,754.4 1850.3,758.9 1852.8,759.9C1855.2,760.9 1859.7,756.8 1861.9,759.2C1864.1,761.5 1867.0,772.6 1869.2,777.4C1871.4,782.3 1875.7,790.8 1878.3,795.7C1881.0,800.6 1886.4,809.6 1889.3,814.0C1892.2,818.4 1897.8,826.7 1900.3,828.6C1902.7,830.6 1905.9,832.5 1907.6,828.6C1909.3,824.7 1911.6,812.1 1913.1,799.4C1914.5,786.7 1917.1,749.7 1918.6,733.6C1920.0,717.5 1922.8,689.0 1924.1,678.7C1925.3,668.5 1925.8,661.5 1927.7,656.8C1929.6,652.1 1935.8,646.9 1938.3,643.3C1940.8,639.7 1944.9,634.4 1946.7,630.0C1948.5,625.6 1950.4,616.2 1951.7,610.0C1953.0,603.8 1955.4,590.0 1956.7,583.3C1958.0,576.6 1960.5,564.7 1961.7,560.0C1962.9,555.3 1964.5,550.4 1965.8,548.3C1967.1,546.2 1969.8,544.1 1971.7,544.2C1973.6,544.3 1977.8,549.1 1980.0,549.2C1982.2,549.3 1986.4,547.6 1988.3,545.0C1990.2,542.4 1992.0,534.7 1994.2,530.0C1996.4,525.3 2001.9,511.0 2004.5,510.1C2007.1,509.1 2011.4,518.7 2013.6,522.9C2015.8,527.0 2019.0,535.8 2020.9,541.1C2022.9,546.5 2026.3,558.9 2028.3,563.1C2030.2,567.2 2033.6,573.2 2035.6,572.2C2037.5,571.2 2040.9,558.7 2042.9,555.8C2044.8,552.8 2048.2,548.3 2050.2,550.3C2052.1,552.2 2055.6,565.8 2057.5,570.4C2059.5,575.0 2063.4,582.8 2064.8,585.0C2066.3,587.3 2067.0,586.6 2068.5,587.3C2069.9,588.0 2074.3,589.8 2075.8,590.5C2077.3,591.2 2077.5,591.0 2079.4,592.8C2081.4,594.6 2086.5,601.3 2090.4,603.8C2094.3,606.2 2104.8,607.7 2108.7,611.1C2112.6,614.5 2116.7,625.5 2119.7,629.4C2122.6,633.3 2128.2,636.4 2130.6,640.3C2133.1,644.2 2136.2,655.4 2137.9,658.6C2139.7,661.8 2141.7,665.3 2143.4,664.1C2145.1,662.9 2148.9,652.6 2150.7,649.5C2152.5,646.3 2155.3,640.8 2157.0,640.3C2158.7,639.8 2161.7,643.6 2163.5,645.8C2165.4,648.0 2168.9,656.1 2170.9,656.8C2172.8,657.5 2176.0,654.2 2178.2,651.3C2180.4,648.4 2184.9,637.3 2187.3,634.8C2189.7,632.4 2193.5,634.1 2196.4,633.0C2199.4,631.9 2206.3,627.1 2209.2,626.8C2212.2,626.5 2215.9,629.9 2218.4,630.5C2220.8,631.0 2225.3,631.3 2227.5,631.2C2229.7,631.0 2232.8,629.7 2234.8,629.4C2236.9,629.0 2241.9,628.7 2243.0,628.6"/>
<path stroke="#000000" d="M192.0,142.3C193.9,142.8 202.5,144.3 206.3,146.3C210.1,148.3 217.0,154.8 220.5,157.4C224.0,160.0 229.9,163.9 232.6,165.5C235.3,167.1 238.8,167.8 240.7,169.6C242.6,171.4 244.6,176.9 246.8,178.7C249.0,180.5 254.2,180.8 256.9,182.8C259.6,184.8 263.8,191.1 267.0,193.9C270.2,196.7 277.7,202.0 281.2,204.0C284.7,206.0 290.3,208.0 293.4,209.1C296.5,210.2 302.1,211.8 304.5,212.1C306.9,212.4 309.6,210.4 311.6,211.1C313.6,211.8 317.8,214.2 319.7,217.2C321.6,220.2 324.2,229.1 325.7,233.4C327.2,237.7 329.4,245.7 330.8,249.6C332.2,253.5 334.4,260.3 335.9,262.7C337.4,265.1 340.0,266.9 341.9,267.4C343.8,267.9 347.8,265.6 350.0,266.2C352.2,266.8 356.1,269.4 358.1,271.8C360.1,274.2 363.4,280.2 365.2,284.0C367.0,287.8 369.7,297.0 371.3,300.2C372.9,303.4 375.6,306.4 377.4,308.3C379.2,310.2 383.0,311.3 384.5,314.3C386.0,317.3 387.2,326.7 388.5,330.5C389.8,334.3 393.0,339.5 394.6,342.7C396.2,345.9 399.1,350.8 400.6,354.8C402.1,358.8 404.1,368.9 405.7,373.0C407.3,377.1 410.5,381.7 412.8,385.2C415.1,388.7 419.9,395.9 422.9,399.4C425.9,402.9 432.1,409.3 435.1,411.5C438.1,413.7 442.0,414.9 445.2,416.0C448.4,417.1 454.3,417.8 459.3,419.6C464.3,421.4 476.6,427.5 482.6,429.6C488.7,431.8 499.7,434.8 504.6,435.8C509.4,436.9 514.8,438.0 519.2,437.7C523.6,437.3 532.1,435.3 537.5,433.3C542.8,431.2 553.6,425.0 559.4,422.3C565.3,419.6 575.5,414.9 581.4,413.2C587.2,411.5 597.4,410.7 603.3,409.5C609.1,408.3 618.9,406.2 625.2,404.0C631.6,401.8 644.5,396.7 650.8,393.1C657.2,389.4 667.4,381.5 672.8,376.6C678.1,371.7 686.2,362.8 691.0,356.5C695.9,350.2 704.4,337.1 709.3,329.1C714.2,321.0 723.2,304.4 727.6,296.2C732.0,287.9 739.6,273.1 742.2,266.9C744.9,260.7 745.8,253.0 747.5,249.4C749.2,245.8 753.1,241.7 754.8,240.2C756.5,238.7 758.7,238.2 760.3,238.2C761.9,238.2 765.0,238.7 766.7,240.2C768.4,241.7 771.4,246.0 773.1,249.4C774.8,252.8 777.8,261.2 779.5,265.8C781.2,270.4 784.3,279.2 785.9,284.1C787.5,289.0 790.1,298.0 791.4,302.4C792.7,306.8 794.9,314.0 796.0,317.0C797.1,320.0 798.6,324.0 799.6,325.2C800.6,326.4 802.2,326.4 803.3,325.7C804.4,325.0 806.6,321.6 807.9,319.7C809.2,317.8 811.6,313.2 813.3,311.5C815.0,309.8 818.7,308.4 820.7,306.9C822.7,305.4 826.4,302.6 828.0,300.5C829.6,298.4 830.1,297.8 832.5,291.4C834.9,285.0 842.6,260.7 845.8,252.3C849.1,243.9 853.9,233.6 856.8,228.5C859.7,223.4 864.3,217.6 867.8,213.9C871.2,210.2 877.5,204.0 882.4,201.1C887.3,198.2 898.5,194.9 904.3,192.0C910.2,189.0 919.4,183.1 926.3,179.2C933.1,175.3 948.7,166.8 955.5,162.7C962.3,158.6 971.6,151.0 977.4,148.1C983.3,145.2 992.6,142.9 999.4,140.8C1006.2,138.7 1021.8,133.8 1028.6,132.4C1035.5,130.9 1046.4,130.4 1050.6,129.8C1054.7,129.2 1054.8,129.0 1060.0,127.6C1065.2,126.2 1084.2,120.5 1089.8,119.3C1095.4,118.1 1099.3,118.1 1101.7,118.3C1104.1,118.5 1106.3,119.5 1107.6,121.1C1108.9,122.7 1110.2,125.6 1111.2,130.0C1112.2,134.4 1113.9,146.2 1114.8,153.8C1115.7,161.4 1117.4,177.9 1118.3,187.1C1119.2,196.3 1121.0,215.2 1121.9,222.9C1122.8,230.6 1124.0,242.7 1124.9,244.9C1125.8,247.1 1127.6,242.0 1128.5,239.5C1129.4,237.0 1130.4,228.9 1131.4,226.4C1132.4,223.9 1134.8,222.0 1136.2,221.1C1137.6,220.2 1140.8,220.6 1142.1,219.3C1143.4,218.0 1144.7,214.5 1145.7,211.0C1146.7,207.5 1148.3,198.2 1149.3,193.1C1150.3,188.0 1151.8,178.5 1152.9,172.9C1154.0,167.3 1156.3,156.3 1157.6,151.4C1158.9,146.5 1161.1,138.9 1162.4,136.0C1163.7,133.1 1165.7,131.0 1167.1,130.0C1168.5,129.0 1169.9,128.7 1173.1,128.6C1176.3,128.5 1187.0,129.0 1191.0,129.4C1195.0,129.8 1198.9,130.6 1202.9,131.8C1206.9,133.0 1216.3,136.6 1220.7,138.3C1225.1,140.0 1232.2,143.2 1236.2,144.3C1240.2,145.4 1247.3,146.3 1250.5,146.7C1253.7,147.1 1257.9,147.1 1260.0,147.3C1262.1,147.5 1261.6,147.7 1266.3,148.1C1271.0,148.4 1287.7,150.2 1295.5,149.9C1303.3,149.7 1318.0,146.5 1324.8,146.3C1331.6,146.0 1341.4,147.2 1346.7,148.1C1352.1,149.0 1360.6,151.4 1365.0,152.8C1369.4,154.3 1375.7,158.0 1379.6,159.0C1383.5,160.1 1390.4,159.7 1394.3,160.9C1398.2,162.1 1405.5,166.5 1408.9,168.2C1412.3,169.9 1416.4,172.2 1419.9,173.7C1423.3,175.1 1431.1,176.7 1434.5,179.2C1437.9,181.6 1442.5,188.8 1445.4,192.0C1448.4,195.1 1453.5,199.8 1456.4,202.9C1459.3,206.1 1464.9,212.1 1467.4,215.7C1469.8,219.4 1472.3,226.9 1474.7,230.3C1477.1,233.8 1483.2,237.4 1485.7,241.3C1488.1,245.2 1490.5,253.3 1493.0,259.6C1495.4,265.9 1501.8,283.5 1503.9,288.8C1506.1,294.2 1507.6,296.7 1508.9,300.0C1510.2,303.3 1512.4,310.4 1513.7,313.7C1515.0,317.0 1517.1,322.0 1518.5,324.7C1519.9,327.4 1522.6,332.3 1524.0,334.3C1525.4,336.3 1527.7,340.2 1529.2,339.8C1530.7,339.4 1533.4,334.8 1534.9,331.5C1536.4,328.2 1539.0,319.3 1540.4,315.1C1541.8,310.9 1543.0,307.4 1545.2,300.0C1547.4,292.6 1554.1,266.0 1556.6,259.6C1559.1,253.2 1562.0,251.8 1563.9,252.3C1565.9,252.8 1569.3,258.9 1571.2,263.3C1573.2,267.6 1576.3,279.8 1578.5,285.2C1580.7,290.6 1585.4,300.0 1587.7,303.5C1589.9,306.9 1593.4,309.1 1595.3,311.0C1597.2,312.9 1600.5,314.7 1602.1,317.8C1603.7,320.9 1605.8,330.8 1607.6,334.3C1609.4,337.8 1614.0,340.6 1615.8,343.9C1617.6,347.2 1620.0,354.6 1621.3,359.0C1622.6,363.4 1624.3,371.9 1625.4,376.8C1626.5,381.7 1628.4,391.8 1629.5,396.0C1630.6,400.2 1632.4,406.3 1633.7,408.3C1635.0,410.3 1637.4,411.9 1639.1,411.1C1640.8,410.3 1643.8,402.9 1646.2,402.2C1648.6,401.5 1654.2,406.1 1657.1,405.9C1660.1,405.6 1665.4,400.1 1668.1,400.4C1670.8,400.6 1675.1,406.0 1677.3,407.7C1679.4,409.4 1682.4,413.4 1684.6,413.2C1686.8,412.9 1691.5,408.0 1693.7,405.9C1695.9,403.7 1699.1,399.1 1701.0,396.7C1703.0,394.3 1706.6,391.2 1708.3,387.6C1710.0,383.9 1712.1,373.4 1713.8,369.3C1715.5,365.1 1718.9,359.4 1721.1,356.5C1723.3,353.6 1728.1,349.1 1730.3,347.3C1732.5,345.6 1735.6,343.2 1737.6,343.7C1739.5,344.2 1742.9,348.3 1744.9,351.0C1746.8,353.7 1750.0,361.1 1752.2,363.8C1754.4,366.5 1758.9,369.9 1761.3,371.1C1763.8,372.3 1768.3,370.3 1770.5,372.9C1772.7,375.6 1775.6,384.3 1777.8,391.2C1780.0,398.2 1784.8,417.2 1786.7,425.0C1788.6,432.8 1790.5,442.7 1791.7,450.0C1792.9,457.3 1794.7,472.4 1795.8,480.0C1796.9,487.6 1798.8,501.4 1800.0,506.7C1801.2,512.0 1803.6,519.1 1805.0,520.0C1806.4,520.9 1809.4,516.6 1810.8,513.3C1812.2,510.0 1814.3,498.9 1815.8,495.0C1817.3,491.1 1820.0,485.1 1821.7,484.2C1823.4,483.3 1826.3,485.8 1828.3,488.3C1830.3,490.8 1834.5,499.3 1836.7,503.3C1838.9,507.3 1843.1,515.4 1845.0,518.3C1846.9,521.2 1849.4,525.0 1850.8,525.0C1852.2,525.0 1854.5,519.6 1855.8,518.3C1857.1,517.0 1859.6,514.3 1860.8,515.0C1862.0,515.7 1863.9,520.2 1865.0,523.3C1866.1,526.4 1867.6,534.7 1869.2,538.3C1870.8,541.9 1874.7,546.7 1876.7,550.0C1878.7,553.3 1882.0,560.0 1884.2,563.3C1886.4,566.6 1891.2,572.1 1893.3,575.0C1895.4,577.9 1898.4,582.1 1900.0,585.0C1901.6,587.9 1903.8,594.6 1905.0,596.7C1906.2,598.8 1908.1,601.3 1909.2,600.8C1910.3,600.3 1912.4,597.2 1913.3,593.3C1914.2,589.4 1915.1,577.9 1915.8,571.7C1916.5,565.5 1917.6,554.5 1918.3,546.7C1919.0,538.9 1920.1,522.2 1920.8,513.3C1921.5,504.4 1922.6,488.9 1923.3,480.0C1924.0,471.1 1925.1,455.1 1925.8,446.7C1926.5,438.3 1927.6,422.9 1928.3,416.7C1929.0,410.5 1929.9,403.1 1930.8,400.0C1931.7,396.9 1933.5,394.1 1935.0,393.3C1936.5,392.5 1940.1,395.3 1941.7,394.2C1943.3,393.1 1945.9,388.3 1946.7,385.0C1947.5,381.7 1946.9,375.8 1947.8,369.3C1948.7,362.8 1951.8,344.7 1953.3,336.4C1954.8,328.1 1957.3,314.0 1958.8,307.1C1960.3,300.3 1962.8,288.6 1964.3,285.2C1965.7,281.8 1968.3,279.6 1969.8,281.5C1971.2,283.5 1973.8,295.2 1975.2,299.8C1976.7,304.4 1979.0,315.3 1980.7,316.3C1982.4,317.2 1986.1,311.8 1988.0,307.1C1990.0,302.5 1993.4,286.2 1995.4,281.5C1997.3,276.9 2000.7,272.4 2002.7,272.4C2004.6,272.4 2008.0,277.4 2010.0,281.5C2011.9,285.7 2015.3,296.6 2017.3,303.5C2019.2,310.3 2022.9,326.4 2024.6,332.7C2026.3,339.1 2028.6,348.1 2030.1,351.0C2031.5,353.9 2034.1,355.6 2035.6,354.7C2037.0,353.7 2039.6,346.1 2041.1,343.7C2042.5,341.3 2045.1,336.9 2046.5,336.4C2048.0,335.9 2050.6,337.1 2052.0,340.0C2053.5,343.0 2055.8,353.4 2057.5,358.3C2059.2,363.2 2062.6,374.4 2064.8,376.6C2067.0,378.8 2071.5,373.8 2074.0,374.8C2076.4,375.7 2080.4,382.0 2083.1,383.9C2085.8,385.9 2090.9,388.7 2094.1,389.4C2097.2,390.1 2104.2,387.7 2106.9,389.4C2109.5,391.1 2112.2,398.5 2114.2,402.2C2116.1,405.9 2119.3,414.1 2121.5,416.8C2123.7,419.5 2128.4,419.4 2130.6,422.3C2132.8,425.2 2136.2,435.6 2137.9,438.8C2139.7,441.9 2142.0,446.6 2143.4,446.1C2144.9,445.6 2147.5,438.3 2148.9,435.1C2150.4,431.9 2152.9,424.3 2154.4,422.3C2155.9,420.4 2158.4,419.0 2159.9,420.5C2161.3,421.9 2163.9,430.6 2165.4,433.3C2166.8,436.0 2169.1,440.8 2170.9,440.6C2172.6,440.3 2176.2,434.6 2178.2,431.4C2180.1,428.3 2183.5,419.7 2185.5,416.8C2187.4,413.9 2190.8,410.7 2192.8,409.5C2194.7,408.3 2197.9,409.1 2200.1,407.7C2202.3,406.2 2207.1,399.0 2209.2,398.5C2211.4,398.0 2214.4,402.8 2216.6,404.0C2218.8,405.2 2223.3,407.7 2225.7,407.7C2228.1,407.7 2232.5,404.8 2234.8,404.0C2237.1,403.3 2241.9,402.4 2243.0,402.2"/>
</g>
<path d="M191.50,1519.5V1546.5M305.44,1519.5V1530.5M419.39,1519.5V1546.5M533.33,1519.5V1530.5M647.28,1519.5V1546.5M761.22,1519.5V1530.5M875.17,1519.5V1546.5M989.11,1519.5V1530.5M1103.06,1519.5V1546.5M1217.00,1519.5V1530.5M1330.94,1519.5V1546.5M1444.89,1519.5V1530.5M1558.83,1519.5V1546.5M1672.78,1519.5V1530.5M1786.72,1519.5V1546.5M1900.67,1519.5V1530.5M2014.61,1519.5V1546.5M2128.56,1519.5V1530.5M2242.50,1519.5V1546.5" stroke="#000" stroke-width="7" stroke-linecap="round" fill="none"/>
<text x="191.5" y="1641" font-size="96" text-anchor="middle">4000</text>
<text x="419.4" y="1641" font-size="96" text-anchor="middle">3600</text>
<text x="647.3" y="1641" font-size="96" text-anchor="middle">3200</text>
<text x="875.2" y="1641" font-size="96" text-anchor="middle">2800</text>
<text x="1103.1" y="1641" font-size="96" text-anchor="middle">2400</text>
<text x="1330.9" y="1641" font-size="96" text-anchor="middle">2000</text>
<text x="1558.8" y="1641" font-size="96" text-anchor="middle">1600</text>
<text x="1786.7" y="1641" font-size="96" text-anchor="middle">1200</text>
<text x="2014.6" y="1641" font-size="96" text-anchor="middle">800</text>
<text x="2242.5" y="1641" font-size="96" text-anchor="middle">400</text>
<text x="801" y="1761" font-size="95">Wavenumbers (cm</text>
<text transform="translate(1520,1708) scale(1.6,1)" font-size="58">−</text>
<text x="1573.5" y="1709" font-size="58">1</text>
<text x="1602" y="1761" font-size="95">)</text>
<text transform="translate(78.3,1014.5) rotate(-90)" font-size="95">Transmittrance</text>
<text x="233.3" y="140.5" font-size="82.3">native pea starch</text>
<text x="237.5" y="355.5" font-size="82.3">2h</text>
<text x="236" y="570" font-size="82.3">3h</text>
<text x="230" y="709.5" font-size="82.3">4h</text>
<text x="226" y="968.5" font-size="82.3">5h</text>
<text x="1449" y="435" font-size="81">1651</text>
<text x="1397.5" y="1435.5" font-size="81">1747</text>
<text x="1990" y="162" font-size="124">(C)</text>
<text x="2302.5" y="1420" font-size="10.5">cm<tspan font-size="6.5" dy="-4">−1</tspan></text>
<path d="M1514.5,340.5H1544.5M1529.5,325.5V355.5" stroke="#ff0000" stroke-width="4" stroke-linecap="round" fill="none"/>
<path d="M1460.4,1341H1490.4M1475.4,1326V1356" stroke="#ff0000" stroke-width="4" stroke-linecap="round" fill="none"/>
</svg></body></html>
